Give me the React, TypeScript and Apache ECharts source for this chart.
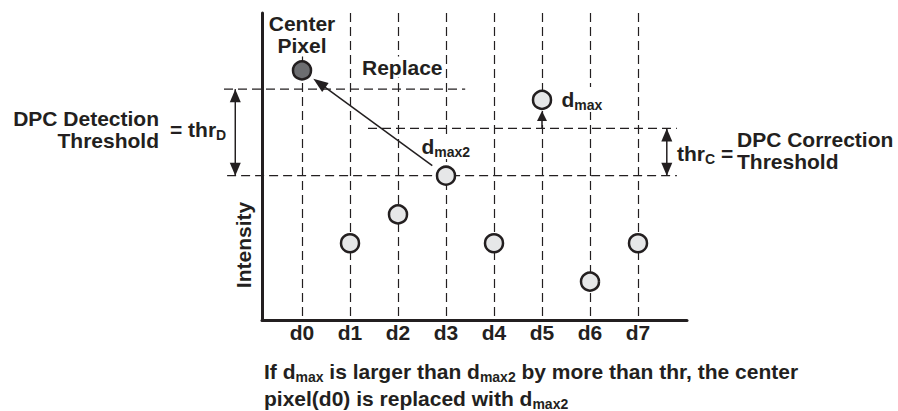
import React, { useEffect, useRef } from 'react';
import * as echarts from 'echarts';

// ---- data ----
const categories = ['d0', 'd1', 'd2', 'd3', 'd4', 'd5', 'd6', 'd7'];
const intensity = [81.3, 25, 34.4, 47, 25, 71.7, 12.5, 25];
const centerIndex = 0;
const dmaxIndex = 5;
const dmax2Index = 3;
const thrD = 28.2; // DPC detection threshold
const thrC = 15.4; // DPC correction threshold
const yAxisTitle = 'Intensity';

// ---- styles ----
const INK = '#231f20';
const LIGHT = '#e6e7e8';
const DARK = '#6d6e71';
const FONT = "'Liberation Sans', Arial, Helvetica, sans-serif";
const FS = 21;
const SUB = 14;

export default function App() {
  const ref = useRef<HTMLDivElement>(null);

  useEffect(() => {
    document.body.style.margin = '0';
    const chart = echarts.init(ref.current!, undefined, { renderer: 'svg' });

    const labelStyle = { fontSize: FS, fontWeight: 'bold', fontFamily: FONT, color: INK };

    const option: any = {
      animation: false,
      backgroundColor: '#ffffff',
      grid: [
        { left: 262, top: 13, width: 425, height: 307 },
        { left: 302, top: 13, width: 336, height: 307 },
      ],
      xAxis: [
        {
          gridIndex: 0, type: 'value', min: 0, max: 1,
          axisLine: { show: true, lineStyle: { color: INK, width: 3 } },
          axisTick: { show: false }, axisLabel: { show: false }, splitLine: { show: false },
        },
        {
          gridIndex: 1, type: 'value', min: 0, max: categories.length - 1, interval: 1,
          axisLine: { show: false }, axisTick: { show: false },
          axisLabel: { ...labelStyle, margin: 2, formatter: (v: number) => categories[v] ?? '' },
          splitLine: { show: true, lineStyle: { color: INK, width: 1.2, type: [9, 5] } },
        },
      ],
      yAxis: [
        {
          gridIndex: 0, type: 'value', min: 0, max: 1,
          axisLine: { show: true, lineStyle: { color: INK, width: 3 } },
          axisTick: { show: false }, axisLabel: { show: false }, splitLine: { show: false },
        },
        { gridIndex: 1, type: 'value', min: 0, max: 100, show: false },
      ],
      series: [
        {
          type: 'scatter', xAxisIndex: 1, yAxisIndex: 1, symbol: 'circle', symbolSize: 18,
          silent: true, z: 3,
          itemStyle: { color: LIGHT, borderColor: INK, borderWidth: 2.5, opacity: 1 },
          data: intensity.map((v, i) =>
            i === centerIndex ? { value: [i, v], itemStyle: { color: DARK } } : [i, v]
          ),
        },
      ],
    };
    chart.setOption(option);

    const px = (x: number, y: number) =>
      chart.convertToPixel({ seriesIndex: 0 }, [x, y]) as unknown as number[];

    const els: any[] = [];
    const dash = { stroke: INK, lineWidth: 1.2, lineDash: [9, 5] };
    const hline = (x1: number, x2: number, v: number) => {
      const a = px(x1, v), b = px(x2, v);
      els.push({ type: 'line', z: 1, silent: true, shape: { x1: a[0], y1: a[1], x2: b[0], y2: b[1] }, style: dash });
    };
    const seg = (a: number[], b: number[]) =>
      els.push({ type: 'line', z: 6, silent: true, shape: { x1: a[0], y1: a[1], x2: b[0], y2: b[1] }, style: { stroke: INK, lineWidth: 1.5 } });
    const head = (tip: number[], ux: number, uy: number, len: number, w: number) => {
      const bx = tip[0] - ux * len, by = tip[1] - uy * len;
      const nx = -uy * w / 2, ny = ux * w / 2;
      els.push({ type: 'polygon', z: 6, silent: true, shape: { points: [[tip[0], tip[1]], [bx + nx, by + ny], [bx - nx, by - ny]] }, style: { fill: INK } });
    };
    const dblArrow = (x: number, vTop: number, vBot: number) => {
      const t = px(x, vTop), b = px(x, vBot);
      seg(t, b);
      head(t, 0, -1, 13, 11);
      head(b, 0, 1, 13, 11);
    };

    const dmax2 = intensity[dmax2Index];
    const dmax = intensity[dmaxIndex];
    const detTop = dmax2 + thrD;
    const corTop = dmax2 + thrC;

    // threshold guide lines
    hline(-1.625, 3.4, detTop);
    hline(-1.56, 7.81, dmax2);
    hline(1.375, 7.81, corTop);

    // threshold arrows
    dblArrow(-1.39, detTop, dmax2);
    dblArrow(7.6, corTop, dmax2);

    // d_max arrow
    const c5 = px(dmaxIndex, dmax);
    const a5 = px(dmaxIndex, corTop);
    const tip5 = [c5[0], c5[1] + 11];
    seg(a5, [tip5[0], tip5[1] + 6]);
    head(tip5, 0, -1, 10, 10);

    // replace arrow d_max2 -> center pixel
    const c3 = px(dmax2Index, dmax2);
    const c0 = px(centerIndex, intensity[centerIndex]);
    const dx = c0[0] - c3[0], dy = c0[1] - c3[1];
    const L = Math.hypot(dx, dy);
    const ux = dx / L, uy = dy / L;
    const start = [c3[0] + ux * 17, c3[1] + uy * 17];
    const tip0 = [c0[0] - ux * 14, c0[1] - uy * 14];
    seg(start, [tip0[0] - ux * 8, tip0[1] - uy * 8]);
    head(tip0, ux, uy, 15, 11);

    const rich = {
      s: { fontSize: SUB, fontWeight: 'bold', fontFamily: FONT, fill: INK, padding: [11, 0, 0, 0] },
    };
    const txt = (x: number, y: number, text: string, extra: any = {}, elExtra: any = {}) =>
      els.push({
        type: 'text', x, y, z: 5, silent: true, ...elExtra,
        style: {
          text, fontSize: FS, fontWeight: 'bold', fontFamily: FONT, fill: INK,
          align: 'left', verticalAlign: 'middle', rich, ...extra,
        },
      });

    txt(243, 245, yAxisTitle, { align: 'center' }, { rotation: Math.PI / 2 });
    txt(c0[0], 34.5, 'Center\nPixel', { align: 'center', lineHeight: 22, backgroundColor: '#ffffff', padding: [0, 2] });
    txt(360, 67, 'Replace', { backgroundColor: '#ffffff', padding: [0, 2] });
    txt(159, 129, 'DPC Detection\nThreshold', { align: 'right', lineHeight: 22 });
    txt(170, 129.5, '= thr{s|D}');
    txt(419.5, 146.5, 'd{s|max2}', { backgroundColor: '#ffffff', padding: [0, 2] });
    txt(559.5, 99.5, 'd{s|max}', { backgroundColor: '#ffffff', padding: [0, 2] });
    txt(677, 153, 'thr{s|C} =');
    txt(737, 150, 'DPC Correction\nThreshold', { lineHeight: 22 });
    txt(264, 371, 'If d{s|max} is larger than d{s|max2} by more than thr, the center');
    txt(264, 398, 'pixel(d0) is replaced with d{s|max2}');

    chart.setOption({ graphic: { elements: els } });

    return () => chart.dispose();
  }, []);

  return (
    <div
      ref={ref}
      style={{ position: 'fixed', left: 0, top: 0, width: 898, height: 411, background: '#fff' }}
    />
  );
}
